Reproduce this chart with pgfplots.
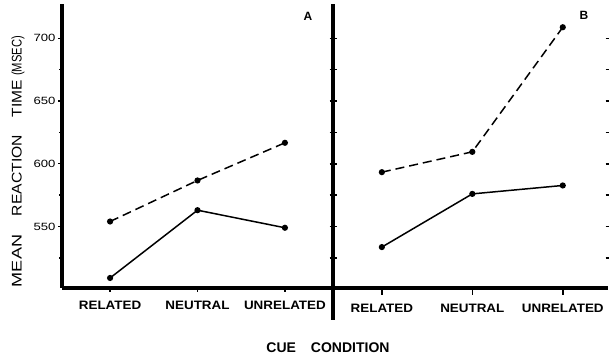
\documentclass[border=0pt]{standalone}
\usepackage{pgfplots}
\pgfplotsset{compat=1.18}
\usepackage{fontspec}
\setmainfont{Liberation Sans}
\newfontfamily\widefont[FakeStretch=1.25]{Liberation Sans}
\newfontfamily\xlabfont[FakeStretch=1.1]{Liberation Sans}
\newcommand\ylab[2]{\scalebox{#1}[1]{\fontsize{14}{14}\selectfont #2}}
\begin{document}
\begin{tikzpicture}
\pgfplotsset{
  panel/.style={
    anchor=south west,
    scale only axis, height=283.6pt, ymin=501, ymax=727,
    axis x line*=bottom, axis y line*=left,
    axis line style={line width=3.5pt, black},
    xtick={0,1,2}, xticklabels={RELATED,NEUTRAL,UNRELATED},
    xticklabel style={font=\xlabfont\bfseries\fontsize{12.2}{12.2}\selectfont, yshift=-6pt},
    xtick align=outside,
    clip=false,
  },
  dat/.style={black, line width=1.5pt, mark=*, mark size=2.3pt, mark options={solid, fill=black}},
}
% Panel A
\begin{axis}[panel, at={(62pt,70pt)}, width=271pt, xmin=-0.55, xmax=2.55,
  ytick={550,600,650,700}, minor ytick={525,575,625,675},
  ytick align=outside, major tick length=4pt, minor tick length=3pt,
  every tick/.style={black, line width=1.3pt},
  yticklabel style={font=\widefont\fontsize{10.5}{10.5}\selectfont, xshift=1pt},
  /pgf/number format/assume math mode=true]
\addplot[dat, dash pattern=on 9pt off 5pt] coordinates {(0,554) (1,586.7) (2,616.7)};
\addplot[dat] coordinates {(0,509) (1,563) (2,549)};
\end{axis}
% Panel B
\begin{axis}[panel, at={(333pt,70pt)}, width=275pt, xmin=-0.54, xmax=2.50,
  ytick={525,550,...,700}, yticklabels={},
  ytick align=center, major tick length=7pt,
  every tick/.style={black, line width=1.5pt}]
\addplot[dat, dash pattern=on 9pt off 5pt] coordinates {(0,593.3) (1,609.5) (2,708.8)};
\addplot[dat] coordinates {(0,533.6) (1,576) (2,582.7)};
\end{axis}
% partial next panel at right edge
\begin{axis}[anchor=south west, at={(609pt,70pt)}, scale only axis, width=10pt, height=283.6pt,
  ymin=501, ymax=727, xmin=0, xmax=1, hide x axis,
  axis y line*=left, axis line style={draw=none},
  ytick={525,550,...,700}, yticklabels={}, ytick align=center, major tick length=7pt,
  every tick/.style={black, line width=1.5pt}, clip=false]
\end{axis}
\draw[line width=3.5pt] (333pt,71pt) -- (333pt,38pt);
\node[font=\bfseries\fontsize{12}{12}\selectfont] at (308pt,342pt) {A};
\node[font=\bfseries\fontsize{12}{12}\selectfont] at (584pt,343pt) {B};
% y-axis label, word by word
\node[rotate=90, anchor=base, inner sep=0pt] at (21.7pt,97pt) {\ylab{1.29}{MEAN}};
\node[rotate=90, anchor=base, inner sep=0pt] at (21.7pt,182.5pt) {\ylab{1.12}{REACTION}};
\node[rotate=90, anchor=base, inner sep=0pt] at (21.7pt,259.5pt) {\ylab{1.11}{TIME}};
\node[rotate=90, anchor=base, inner sep=0pt] at (21.7pt,302pt) {\ylab{0.8}{(MSEC)}};
\node[font=\bfseries\fontsize{14}{14}\selectfont] at (328pt,10pt) {CUE\hspace{15pt}CONDITION};
\pgfresetboundingbox
\path[use as bounding box] (0pt,0pt) rectangle (609pt,358pt);
\end{tikzpicture}
\end{document}
